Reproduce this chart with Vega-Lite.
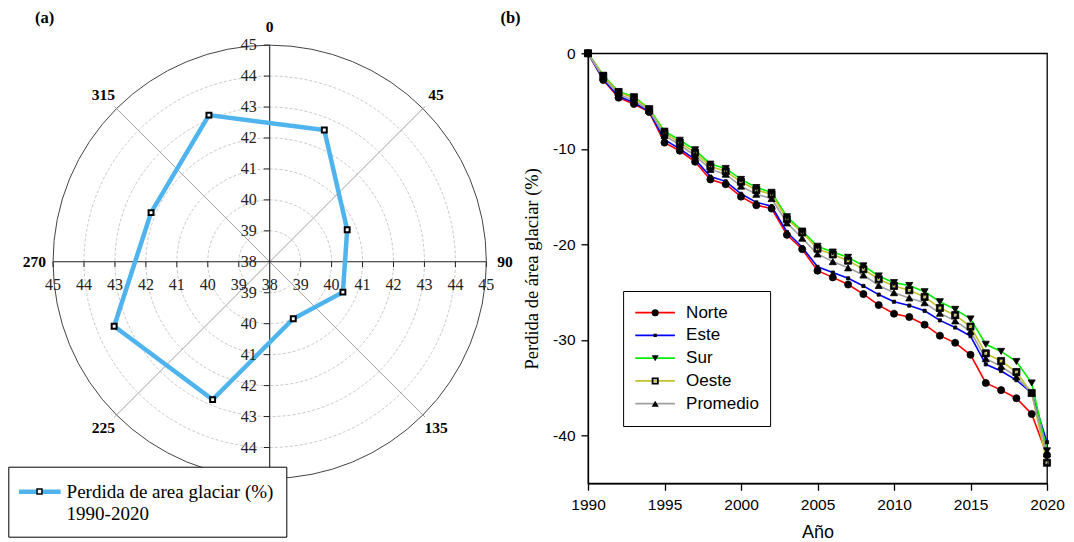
{
  "$schema": "https://vega.github.io/schema/vega-lite/v6.json",
  "width": 459,
  "height": 430,
  "autosize": {"type": "none"},
  "padding": {"left": 588, "top": 53.3, "right": 27, "bottom": 58.7},
  "background": "white",
  "config": {
    "view": {"stroke": "black", "strokeWidth": 1.3},
    "axis": {"grid": false, "domainColor": "black", "tickColor": "black", "labelColor": "black", "titleColor": "black"},
    "style": {"guide-label": {"lineHeight": 22.7}}
  },
  "datasets": {
    "radar": [
      {"angle": 22.5, "value": 42.61, "serie": "Perdida de area glaciar (%)"},
      {"angle": 67.5, "value": 40.71, "serie": "Perdida de area glaciar (%)"},
      {"angle": 112.5, "value": 40.56, "serie": "Perdida de area glaciar (%)"},
      {"angle": 157.5, "value": 39.99, "serie": "Perdida de area glaciar (%)"},
      {"angle": 202.5, "value": 42.82, "serie": "Perdida de area glaciar (%)"},
      {"angle": 247.5, "value": 43.44, "serie": "Perdida de area glaciar (%)"},
      {"angle": 292.5, "value": 42.15, "serie": "Perdida de area glaciar (%)"},
      {"angle": 337.5, "value": 43.13, "serie": "Perdida de area glaciar (%)"}
    ],
    "rings": [{"r": 39}, {"r": 40}, {"r": 41}, {"r": 42}, {"r": 43}, {"r": 44}],
    "outer": [{"r": 45}],
    "spokes": [{"angle": 45}, {"angle": 135}, {"angle": 225}, {"angle": 315}],
    "crossaxes": [{"angle": 0}, {"angle": 90}],
    "radticks": [
      {"t": 38, "side": 0},
      {"t": 39, "side": 1}, {"t": 39, "side": -1},
      {"t": 40, "side": 1}, {"t": 40, "side": -1},
      {"t": 41, "side": 1}, {"t": 41, "side": -1},
      {"t": 42, "side": 1}, {"t": 42, "side": -1},
      {"t": 43, "side": 1}, {"t": 43, "side": -1},
      {"t": 44, "side": 1}, {"t": 44, "side": -1},
      {"t": 45, "side": 1}, {"t": 45, "side": -1}
    ],
    "anglelabels": [{"angle": 0}, {"angle": 45}, {"angle": 90}, {"angle": 135}, {"angle": 180}, {"angle": 225}, {"angle": 270}, {"angle": 315}],
    "glaciar": [
      {"year": 1990, "dir": "Norte", "val": 0}, {"year": 1991, "dir": "Norte", "val": -2.8}, {"year": 1992, "dir": "Norte", "val": -4.65}, {"year": 1993, "dir": "Norte", "val": -5.3}, {"year": 1994, "dir": "Norte", "val": -6.15}, {"year": 1995, "dir": "Norte", "val": -9.35}, {"year": 1996, "dir": "Norte", "val": -10.2}, {"year": 1997, "dir": "Norte", "val": -11.35}, {"year": 1998, "dir": "Norte", "val": -13.2}, {"year": 1999, "dir": "Norte", "val": -13.7}, {"year": 2000, "dir": "Norte", "val": -15.0}, {"year": 2001, "dir": "Norte", "val": -15.9}, {"year": 2002, "dir": "Norte", "val": -16.25}, {"year": 2003, "dir": "Norte", "val": -19.0}, {"year": 2004, "dir": "Norte", "val": -20.5}, {"year": 2005, "dir": "Norte", "val": -22.75}, {"year": 2006, "dir": "Norte", "val": -23.45}, {"year": 2007, "dir": "Norte", "val": -24.2}, {"year": 2008, "dir": "Norte", "val": -25.2}, {"year": 2009, "dir": "Norte", "val": -26.35}, {"year": 2010, "dir": "Norte", "val": -27.25}, {"year": 2011, "dir": "Norte", "val": -27.6}, {"year": 2012, "dir": "Norte", "val": -28.4}, {"year": 2013, "dir": "Norte", "val": -29.55}, {"year": 2014, "dir": "Norte", "val": -30.3}, {"year": 2015, "dir": "Norte", "val": -31.55}, {"year": 2016, "dir": "Norte", "val": -34.5}, {"year": 2017, "dir": "Norte", "val": -35.25}, {"year": 2018, "dir": "Norte", "val": -36.1}, {"year": 2019, "dir": "Norte", "val": -37.75}, {"year": 2020, "dir": "Norte", "val": -42.05},
      {"year": 1990, "dir": "Este", "val": 0}, {"year": 1991, "dir": "Este", "val": -2.75}, {"year": 1992, "dir": "Este", "val": -4.5}, {"year": 1993, "dir": "Este", "val": -5.15}, {"year": 1994, "dir": "Este", "val": -6.1}, {"year": 1995, "dir": "Este", "val": -9.05}, {"year": 1996, "dir": "Este", "val": -10.0}, {"year": 1997, "dir": "Este", "val": -11.1}, {"year": 1998, "dir": "Este", "val": -12.9}, {"year": 1999, "dir": "Este", "val": -13.4}, {"year": 2000, "dir": "Este", "val": -14.7}, {"year": 2001, "dir": "Este", "val": -15.6}, {"year": 2002, "dir": "Este", "val": -16.0}, {"year": 2003, "dir": "Este", "val": -18.7}, {"year": 2004, "dir": "Este", "val": -20.3}, {"year": 2005, "dir": "Este", "val": -22.35}, {"year": 2006, "dir": "Este", "val": -22.95}, {"year": 2007, "dir": "Este", "val": -23.55}, {"year": 2008, "dir": "Este", "val": -24.35}, {"year": 2009, "dir": "Este", "val": -25.25}, {"year": 2010, "dir": "Este", "val": -26.0}, {"year": 2011, "dir": "Este", "val": -26.4}, {"year": 2012, "dir": "Este", "val": -26.95}, {"year": 2013, "dir": "Este", "val": -27.95}, {"year": 2014, "dir": "Este", "val": -28.7}, {"year": 2015, "dir": "Este", "val": -29.6}, {"year": 2016, "dir": "Este", "val": -32.55}, {"year": 2017, "dir": "Este", "val": -33.25}, {"year": 2018, "dir": "Este", "val": -34.2}, {"year": 2019, "dir": "Este", "val": -35.55}, {"year": 2020, "dir": "Este", "val": -40.7},
      {"year": 1990, "dir": "Sur", "val": 0}, {"year": 1991, "dir": "Sur", "val": -2.3}, {"year": 1992, "dir": "Sur", "val": -4.0}, {"year": 1993, "dir": "Sur", "val": -4.55}, {"year": 1994, "dir": "Sur", "val": -5.8}, {"year": 1995, "dir": "Sur", "val": -8.15}, {"year": 1996, "dir": "Sur", "val": -9.1}, {"year": 1997, "dir": "Sur", "val": -10.1}, {"year": 1998, "dir": "Sur", "val": -11.6}, {"year": 1999, "dir": "Sur", "val": -12.05}, {"year": 2000, "dir": "Sur", "val": -13.2}, {"year": 2001, "dir": "Sur", "val": -14.05}, {"year": 2002, "dir": "Sur", "val": -14.55}, {"year": 2003, "dir": "Sur", "val": -17.1}, {"year": 2004, "dir": "Sur", "val": -18.6}, {"year": 2005, "dir": "Sur", "val": -20.2}, {"year": 2006, "dir": "Sur", "val": -20.8}, {"year": 2007, "dir": "Sur", "val": -21.35}, {"year": 2008, "dir": "Sur", "val": -22.25}, {"year": 2009, "dir": "Sur", "val": -23.3}, {"year": 2010, "dir": "Sur", "val": -24.0}, {"year": 2011, "dir": "Sur", "val": -24.3}, {"year": 2012, "dir": "Sur", "val": -24.95}, {"year": 2013, "dir": "Sur", "val": -26.0}, {"year": 2014, "dir": "Sur", "val": -26.8}, {"year": 2015, "dir": "Sur", "val": -27.8}, {"year": 2016, "dir": "Sur", "val": -30.45}, {"year": 2017, "dir": "Sur", "val": -31.2}, {"year": 2018, "dir": "Sur", "val": -32.25}, {"year": 2019, "dir": "Sur", "val": -34.5}, {"year": 2020, "dir": "Sur", "val": -41.6},
      {"year": 1990, "dir": "Oeste", "val": 0}, {"year": 1991, "dir": "Oeste", "val": -2.4}, {"year": 1992, "dir": "Oeste", "val": -4.1}, {"year": 1993, "dir": "Oeste", "val": -4.65}, {"year": 1994, "dir": "Oeste", "val": -5.9}, {"year": 1995, "dir": "Oeste", "val": -8.35}, {"year": 1996, "dir": "Oeste", "val": -9.35}, {"year": 1997, "dir": "Oeste", "val": -10.4}, {"year": 1998, "dir": "Oeste", "val": -11.85}, {"year": 1999, "dir": "Oeste", "val": -12.35}, {"year": 2000, "dir": "Oeste", "val": -13.45}, {"year": 2001, "dir": "Oeste", "val": -14.3}, {"year": 2002, "dir": "Oeste", "val": -14.75}, {"year": 2003, "dir": "Oeste", "val": -17.35}, {"year": 2004, "dir": "Oeste", "val": -18.75}, {"year": 2005, "dir": "Oeste", "val": -20.45}, {"year": 2006, "dir": "Oeste", "val": -21.05}, {"year": 2007, "dir": "Oeste", "val": -21.7}, {"year": 2008, "dir": "Oeste", "val": -22.6}, {"year": 2009, "dir": "Oeste", "val": -23.65}, {"year": 2010, "dir": "Oeste", "val": -24.35}, {"year": 2011, "dir": "Oeste", "val": -24.8}, {"year": 2012, "dir": "Oeste", "val": -25.5}, {"year": 2013, "dir": "Oeste", "val": -26.65}, {"year": 2014, "dir": "Oeste", "val": -27.4}, {"year": 2015, "dir": "Oeste", "val": -28.6}, {"year": 2016, "dir": "Oeste", "val": -31.4}, {"year": 2017, "dir": "Oeste", "val": -32.2}, {"year": 2018, "dir": "Oeste", "val": -33.35}, {"year": 2019, "dir": "Oeste", "val": -35.55}, {"year": 2020, "dir": "Oeste", "val": -42.85},
      {"year": 1990, "dir": "Promedio", "val": 0}, {"year": 1991, "dir": "Promedio", "val": -2.55}, {"year": 1992, "dir": "Promedio", "val": -4.3}, {"year": 1993, "dir": "Promedio", "val": -4.9}, {"year": 1994, "dir": "Promedio", "val": -6.0}, {"year": 1995, "dir": "Promedio", "val": -8.6}, {"year": 1996, "dir": "Promedio", "val": -9.6}, {"year": 1997, "dir": "Promedio", "val": -10.7}, {"year": 1998, "dir": "Promedio", "val": -12.15}, {"year": 1999, "dir": "Promedio", "val": -12.65}, {"year": 2000, "dir": "Promedio", "val": -13.9}, {"year": 2001, "dir": "Promedio", "val": -14.75}, {"year": 2002, "dir": "Promedio", "val": -15.2}, {"year": 2003, "dir": "Promedio", "val": -17.75}, {"year": 2004, "dir": "Promedio", "val": -19.35}, {"year": 2005, "dir": "Promedio", "val": -21.0}, {"year": 2006, "dir": "Promedio", "val": -21.8}, {"year": 2007, "dir": "Promedio", "val": -22.45}, {"year": 2008, "dir": "Promedio", "val": -23.2}, {"year": 2009, "dir": "Promedio", "val": -24.3}, {"year": 2010, "dir": "Promedio", "val": -25.05}, {"year": 2011, "dir": "Promedio", "val": -25.6}, {"year": 2012, "dir": "Promedio", "val": -26.1}, {"year": 2013, "dir": "Promedio", "val": -27.2}, {"year": 2014, "dir": "Promedio", "val": -28.0}, {"year": 2015, "dir": "Promedio", "val": -29.1}, {"year": 2016, "dir": "Promedio", "val": -31.95}, {"year": 2017, "dir": "Promedio", "val": -32.75}, {"year": 2018, "dir": "Promedio", "val": -33.85}, {"year": 2019, "dir": "Promedio", "val": -35.55}, {"year": 2020, "dir": "Promedio", "val": -41.9}
    ]
  },
  "layer": [
    {
      "layer": [
        {
          "data": {"name": "rings"},
          "mark": {"type": "arc", "filled": false, "stroke": "#c8c8c8", "strokeWidth": 1, "strokeDash": [3, 2], "theta": 0, "theta2": 6.2832},
          "encoding": {
            "x": {"datum": 0, "type": "quantitative", "scale": {"domain": [10.2843, 25.1147], "nice": false, "zero": false}, "axis": null},
            "y": {"datum": 0, "type": "quantitative", "scale": {"domain": [-7.1567, 6.7367], "nice": false, "zero": false}, "axis": null},
            "radius": {"field": "r", "type": "quantitative", "stack": null, "scale": {"type": "linear", "domain": [38, 45], "range": [0, 216.65], "zero": false, "nice": false}, "legend": null}
          }
        },
        {
          "data": {"name": "outer"},
          "mark": {"type": "arc", "filled": false, "stroke": "#444444", "strokeWidth": 1, "theta": 0, "theta2": 6.2832},
          "encoding": {
            "x": {"datum": 0, "type": "quantitative", "scale": {"domain": [10.2843, 25.1147], "nice": false, "zero": false}, "axis": null},
            "y": {"datum": 0, "type": "quantitative", "scale": {"domain": [-7.1567, 6.7367], "nice": false, "zero": false}, "axis": null},
            "radius": {"field": "r", "type": "quantitative", "stack": null, "scale": {"type": "linear", "domain": [38, 45], "range": [0, 216.65], "zero": false, "nice": false}, "legend": null}
          }
        },
        {
          "data": {"name": "spokes"},
          "transform": [
            {"calculate": "0*datum.angle", "as": "u1"},
            {"calculate": "0*datum.angle", "as": "v1"},
            {"calculate": "7.1*sin(datum.angle*PI/180)", "as": "u2"},
            {"calculate": "7.1*cos(datum.angle*PI/180)", "as": "v2"}
          ],
          "mark": {"type": "rule", "stroke": "#a0a0a0", "strokeWidth": 1},
          "encoding": {
            "x": {"field": "u1", "type": "quantitative", "scale": {"domain": [10.2843, 25.1147], "nice": false, "zero": false}, "axis": null},
            "y": {"field": "v1", "type": "quantitative", "scale": {"domain": [-7.1567, 6.7367], "nice": false, "zero": false}, "axis": null},
            "x2": {"field": "u2"},
            "y2": {"field": "v2"}
          }
        },
        {
          "data": {"name": "crossaxes"},
          "transform": [
            {"calculate": "-7*sin(datum.angle*PI/180)", "as": "u1"},
            {"calculate": "-7*cos(datum.angle*PI/180)", "as": "v1"},
            {"calculate": "7*sin(datum.angle*PI/180)", "as": "u2"},
            {"calculate": "7*cos(datum.angle*PI/180)", "as": "v2"}
          ],
          "mark": {"type": "rule", "stroke": "#222222", "strokeWidth": 1.1},
          "encoding": {
            "x": {"field": "u1", "type": "quantitative", "scale": {"domain": [10.2843, 25.1147], "nice": false, "zero": false}, "axis": null},
            "y": {"field": "v1", "type": "quantitative", "scale": {"domain": [-7.1567, 6.7367], "nice": false, "zero": false}, "axis": null},
            "x2": {"field": "u2"},
            "y2": {"field": "v2"}
          }
        },
        {
          "data": {"name": "radticks"},
          "transform": [
            {"filter": "datum.side != 0"},
            {"calculate": "datum.side*(datum.t-38)", "as": "d"},
            {"calculate": "0*datum.t", "as": "z0"},
            {"calculate": "-0.17+0*datum.t", "as": "z1"}
          ],
          "mark": {"type": "rule", "stroke": "#222222", "strokeWidth": 1},
          "encoding": {
            "x": {"field": "d", "type": "quantitative", "scale": {"domain": [10.2843, 25.1147], "nice": false, "zero": false}, "axis": null},
            "y": {"field": "z0", "type": "quantitative", "scale": {"domain": [-7.1567, 6.7367], "nice": false, "zero": false}, "axis": null},
            "y2": {"field": "z1"}
          }
        },
        {
          "data": {"name": "radticks"},
          "transform": [
            {"filter": "datum.side != 0"},
            {"calculate": "datum.side*(datum.t-38)", "as": "d"},
            {"calculate": "0*datum.t", "as": "z0"},
            {"calculate": "-0.19+0*datum.t", "as": "z1"}
          ],
          "mark": {"type": "rule", "stroke": "#222222", "strokeWidth": 1},
          "encoding": {
            "y": {"field": "d", "type": "quantitative", "scale": {"domain": [-7.1567, 6.7367], "nice": false, "zero": false}, "axis": null},
            "x": {"field": "z0", "type": "quantitative", "scale": {"domain": [10.2843, 25.1147], "nice": false, "zero": false}, "axis": null},
            "x2": {"field": "z1"}
          }
        },
        {
          "data": {"name": "radar"},
          "transform": [
            {"calculate": "(datum.value-38)*sin(datum.angle*PI/180)", "as": "u"},
            {"calculate": "(datum.value-38)*cos(datum.angle*PI/180)", "as": "v"}
          ],
          "mark": {"type": "line", "strokeWidth": 4.5, "interpolate": "linear-closed"},
          "encoding": {
            "x": {"field": "u", "type": "quantitative", "scale": {"domain": [10.2843, 25.1147], "nice": false, "zero": false}, "axis": null},
            "y": {"field": "v", "type": "quantitative", "scale": {"domain": [-7.1567, 6.7367], "nice": false, "zero": false}, "axis": null},
            "order": {"field": "angle", "type": "quantitative"},
            "color": {
              "field": "serie", "type": "nominal",
              "scale": {"domain": ["Perdida de area glaciar (%)"], "range": ["#4fb3ee"]},
              "legend": {
                "orient": "none", "legendX": -579.7, "legendY": 413.4, "title": null,
                "padding": 12, "strokeColor": "black", "fillColor": "white",
                "symbolType": "M-2,0H2", "symbolSize": 435, "symbolStrokeWidth": 4.5, "symbolOffset": 6.5,
                "labelOffset": 13.8, "labelFont": "Liberation Serif", "labelFontSize": 19, "labelColor": "black",
                "labelExpr": "[datum.label, '1990-2020']", "labelLimit": 0, "zindex": 1
              }
            }
          }
        },
        {
          "data": {"name": "radar"},
          "transform": [
            {"calculate": "(datum.value-38)*sin(datum.angle*PI/180)", "as": "u"},
            {"calculate": "(datum.value-38)*cos(datum.angle*PI/180)", "as": "v"}
          ],
          "mark": {"type": "point", "filled": true, "fill": "white", "stroke": "black", "strokeWidth": 2, "size": 24, "opacity": 1},
          "encoding": {
            "x": {"field": "u", "type": "quantitative", "scale": {"domain": [10.2843, 25.1147], "nice": false, "zero": false}, "axis": null},
            "y": {"field": "v", "type": "quantitative", "scale": {"domain": [-7.1567, 6.7367], "nice": false, "zero": false}, "axis": null},
            "shape": {
              "field": "serie", "type": "nominal", "scale": {"range": ["square"]},
              "legend": {
                "orient": "none", "legendX": -553.5, "legendY": 433.2, "title": null, "padding": 0,
                "symbolSize": 24, "labelExpr": "''", "zindex": 2,
                "encode": {"symbols": {"update": {"fill": {"value": "white"}, "stroke": {"value": "black"}, "strokeWidth": {"value": 2}, "opacity": {"value": 1}}}}
              }
            }
          }
        },
        {
          "data": {"name": "radticks"},
          "transform": [{"calculate": "datum.side*(datum.t-38)", "as": "d"}, {"calculate": "0*datum.t", "as": "z0"}],
          "mark": {"type": "text", "font": "Liberation Serif", "fontSize": 16, "color": "#222222", "align": "center", "baseline": "middle", "dy": 23},
          "encoding": {
            "x": {"field": "d", "type": "quantitative", "scale": {"domain": [10.2843, 25.1147], "nice": false, "zero": false}, "axis": null},
            "y": {"field": "z0", "type": "quantitative", "scale": {"domain": [-7.1567, 6.7367], "nice": false, "zero": false}, "axis": null},
            "text": {"field": "t", "type": "nominal"}
          }
        },
        {
          "data": {"name": "radticks"},
          "transform": [{"filter": "!(datum.t == 45 && datum.side == -1)"}, {"calculate": "datum.side*(datum.t-38)", "as": "d"}, {"calculate": "0*datum.t", "as": "z0"}],
          "mark": {"type": "text", "font": "Liberation Serif", "fontSize": 16, "color": "#222222", "align": "right", "baseline": "middle", "dx": -13},
          "encoding": {
            "y": {"field": "d", "type": "quantitative", "scale": {"domain": [-7.1567, 6.7367], "nice": false, "zero": false}, "axis": null},
            "x": {"field": "z0", "type": "quantitative", "scale": {"domain": [10.2843, 25.1147], "nice": false, "zero": false}, "axis": null},
            "text": {"field": "t", "type": "nominal"}
          }
        },
        {
          "data": {"name": "anglelabels"},
          "transform": [
            {"filter": "datum.angle != 180"},
            {"calculate": "7.6*sin(datum.angle*PI/180)", "as": "u"},
            {"calculate": "7.6*cos(datum.angle*PI/180)", "as": "v"}
          ],
          "mark": {"type": "text", "font": "Liberation Serif", "fontSize": 15.5, "fontWeight": "bold", "color": "black", "align": "center", "baseline": "middle"},
          "encoding": {
            "x": {"field": "u", "type": "quantitative", "scale": {"domain": [10.2843, 25.1147], "nice": false, "zero": false}, "axis": null},
            "y": {"field": "v", "type": "quantitative", "scale": {"domain": [-7.1567, 6.7367], "nice": false, "zero": false}, "axis": null},
            "text": {"field": "angle", "type": "nominal"}
          }
        },
        {
          "data": {"values": [{"panel": "(a)", "pu": -7.27, "pv": 7.89}, {"panel": "(b)", "pu": 7.78, "pv": 7.89}]},
          "mark": {"type": "text", "font": "Liberation Serif", "fontSize": 16.5, "fontWeight": "bold", "color": "black", "align": "center", "baseline": "middle"},
          "encoding": {
            "x": {"field": "pu", "type": "quantitative", "scale": {"domain": [10.2843, 25.1147], "nice": false, "zero": false}, "axis": null},
            "y": {"field": "pv", "type": "quantitative", "scale": {"domain": [-7.1567, 6.7367], "nice": false, "zero": false}, "axis": null},
            "text": {"field": "panel", "type": "nominal"}
          }
        }
      ]
    },
    {
      "data": {"name": "glaciar"},
      "layer": [
        {
          "mark": {"type": "line", "strokeWidth": 1.6},
          "encoding": {
            "x": {
              "field": "year", "type": "quantitative",
              "scale": {"domain": [1990, 2020], "nice": false, "zero": false},
              "axis": {
                "orient": "bottom", "values": [1990, 1995, 2000, 2005, 2010, 2015, 2020], "format": "d",
                "title": "Año", "titleFont": "Liberation Sans", "titleFontSize": 18, "titleFontWeight": "normal", "titlePadding": 11,
                "labelFont": "Liberation Sans", "labelFontSize": 15.5, "labelPadding": 7, "tickSize": 7, "tickWidth": 1.3, "domainWidth": 1.3,
                "labelFlush": false, "labelOverlap": false
              }
            },
            "y": {
              "field": "val", "type": "quantitative",
              "scale": {"domain": [-45, 0], "nice": false, "zero": false},
              "axis": {
                "orient": "left", "values": [0, -10, -20, -30, -40], "labelExpr": "'' + datum.value",
                "title": "Perdida de área glaciar (%)", "titleFont": "Liberation Serif", "titleFontSize": 18.5, "titleFontWeight": "normal", "titlePadding": 11,
                "labelFont": "Liberation Sans", "labelFontSize": 15.5, "labelPadding": 6, "tickSize": 7, "tickWidth": 1.3, "domainWidth": 1.3,
                "labelFlush": false, "labelOverlap": false
              }
            },
            "color": {
              "field": "dir", "type": "nominal",
              "scale": {"domain": ["Norte", "Este", "Sur", "Oeste", "Promedio"], "range": ["#ff0000", "#0000ff", "#00ee00", "#c2c22a", "#a0a0a0"]},
              "legend": {
                "orient": "none", "legendX": 35.1, "legendY": 237.7, "title": null,
                "padding": 11, "strokeColor": "black", "fillColor": "white",
                "symbolType": "stroke", "symbolSize": 1568, "symbolStrokeWidth": 1.8,
                "clipHeight": 21.4, "rowPadding": 0.75, "labelOffset": 10,
                "labelFont": "Liberation Sans", "labelFontSize": 17, "labelColor": "black", "zindex": 1
              }
            }
          }
        },
        {
          "mark": {"type": "point", "filled": true, "fill": "black", "stroke": "black", "strokeWidth": 0.8, "size": 50, "opacity": 1},
          "encoding": {
            "x": {"field": "year", "type": "quantitative"},
            "y": {"field": "val", "type": "quantitative"},
            "shape": {
              "field": "dir", "type": "nominal", "sort": ["Norte", "Este", "Sur", "Oeste", "Promedio"],
              "scale": {"range": ["circle", "M-0.45,-0.45H0.45V0.45H-0.45Z", "triangle-down", "M-1,-1L1,-1L1,1L-1,1Z M-0.5,-0.5L-0.5,0.5L0.5,0.5L0.5,-0.5Z", "triangle-up"]},
              "legend": {
                "orient": "none", "legendX": 62.2, "legendY": 248.7, "title": null, "padding": 0,
                "symbolSize": 50, "symbolFillColor": "black", "symbolStrokeColor": "black", "symbolStrokeWidth": 0.8,
                "clipHeight": 21.4, "rowPadding": 0.75, "labelExpr": "''", "zindex": 2
              }
            }
          }
        }
      ]
    }
  ],
  "resolve": {
    "scale": {"x": "independent", "y": "independent", "color": "independent", "shape": "independent", "radius": "independent"}
  }
}
